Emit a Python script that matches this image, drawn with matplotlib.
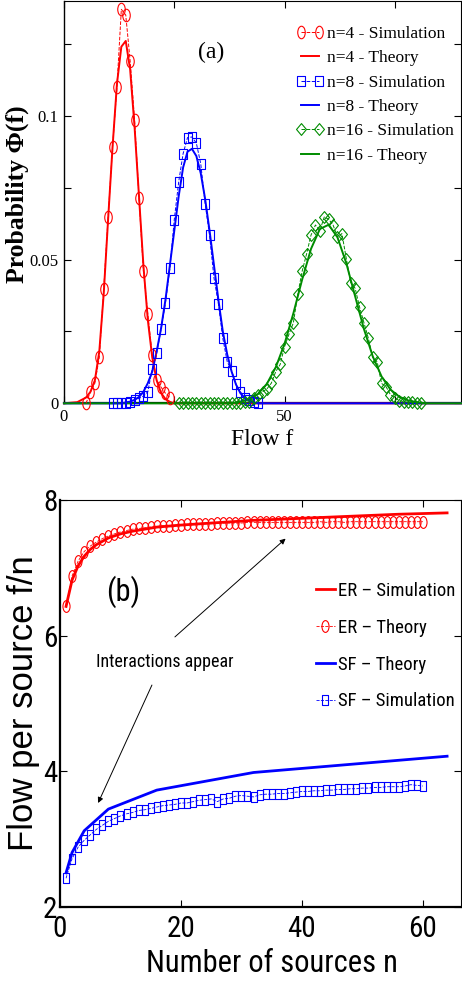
import numpy as np
import matplotlib
matplotlib.use("Agg")
import matplotlib.pyplot as plt
from matplotlib.path import Path
from matplotlib.transforms import Affine2D
from matplotlib.lines import Line2D

#------------------------------------------------------------
# Data, panel (a) : distribution of the flow
#------------------------------------------------------------
f4_sim = list(range(5, 25))
p4_sim = [0, 0.004, 0.007, 0.016, 0.0396, 0.0648, 0.089, 0.110, 0.137, 0.135,
          0.119, 0.0986, 0.0715, 0.046, 0.031, 0.0168, 0.0081, 0.0056, 0.0035, 0.002]
f4_th = [0, 3, 4, 5, 6, 7, 8, 9, 10, 11, 12, 13, 14, 15, 16, 17, 18, 19, 20, 21, 22, 23, 24, 25, 90]
p4_th = [0, 0.0004, 0.0012, 0.002, 0.004, 0.008, 0.018, 0.038, 0.064, 0.089, 0.111, 0.124,
         0.126, 0.116, 0.096, 0.072, 0.048, 0.029, 0.016, 0.008, 0.0036, 0.0015, 0.0005, 0, 0]

f8_sim = list(range(11, 45))
p8_sim = [0, 0, 0, 0.0002, 0.0006, 0.0011, 0.0017, 0.0025, 0.004, 0.012, 0.0174, 0.0257,
          0.0349, 0.0469, 0.0639, 0.077, 0.0868, 0.0924, 0.0926, 0.0905, 0.0833, 0.0694,
          0.0584, 0.0436, 0.0347, 0.0226, 0.0145, 0.0113, 0.0066, 0.004, 0.0017, 0.0011,
          0.0005, 0.0002]
f8_th = [0, 13, 14, 15, 16, 17, 18, 19, 20, 21, 22, 23, 24, 25, 26, 27, 28, 29, 30, 31, 32,
         33, 34, 35, 36, 37, 38, 39, 40, 41, 42, 43, 44, 90]
p8_th = [0, 0, 0.0003, 0.0006, 0.0012, 0.0022, 0.004, 0.007, 0.011, 0.018, 0.026, 0.036,
         0.048, 0.060, 0.072, 0.082, 0.0875, 0.0885, 0.086, 0.080, 0.071, 0.060, 0.048,
         0.036, 0.025, 0.017, 0.011, 0.0065, 0.0035, 0.0018, 0.0008, 0.0003, 0, 0]

f16_sim = list(range(26, 82))
p16_sim = [0, 0, 0, 0, 0, 0, 0, 0, 0, 0, 0, 0, 0, 0, 0,
           0.0003, 0.0005, 0.002, 0.003, 0.004, 0.005, 0.007, 0.011, 0.0135, 0.0197,
           0.024, 0.028, 0.038, 0.046, 0.052, 0.0585, 0.062, 0.060, 0.0648, 0.064,
           0.062, 0.0578, 0.059, 0.0503, 0.042, 0.040, 0.0335, 0.028, 0.0226, 0.016,
           0.0144, 0.0069, 0.0058, 0.003, 0.002, 0.0009, 0.0006, 0.0004, 0.0003, 0.0002, 0.0001]
f16_th = [0, 38, 40, 42, 44, 46, 48, 50, 52, 54, 56, 58, 60, 62, 64, 66, 68, 70, 72, 74,
          76, 78, 80, 82, 90]
p16_th = [0, 0, 0.0006, 0.0015, 0.0033, 0.0068, 0.0125, 0.0207, 0.0313, 0.0431, 0.0537,
          0.0606, 0.0621, 0.0577, 0.0487, 0.0372, 0.0258, 0.0163, 0.0093, 0.0048, 0.0023,
          0.001, 0.0004, 0, 0]

#------------------------------------------------------------
# Data, panel (b) : flow per source
#------------------------------------------------------------
n_sim = list(range(1, 61))
er_theory = [6.43, 6.88, 7.10, 7.24, 7.32, 7.38, 7.43, 7.47, 7.50, 7.53,
             7.55, 7.57, 7.58, 7.59, 7.60, 7.61, 7.62, 7.62, 7.63, 7.63,
             7.64, 7.64, 7.65, 7.65, 7.65, 7.66, 7.66, 7.66, 7.66, 7.66,
             7.67, 7.67, 7.67, 7.67, 7.67, 7.67, 7.67, 7.67, 7.67, 7.67,
             7.67, 7.67, 7.68, 7.67, 7.68, 7.68, 7.67, 7.68, 7.68, 7.68,
             7.68, 7.68, 7.68, 7.68, 7.68, 7.68, 7.68, 7.68, 7.68, 7.68]
n_er = [1, 2, 3, 4, 5, 6, 8, 10, 12, 16, 20, 25, 32, 40, 48, 56, 64]
er_sim = [6.43, 6.82, 7.03, 7.17, 7.27, 7.34, 7.44, 7.50, 7.54, 7.60, 7.63, 7.66,
          7.70, 7.73, 7.76, 7.79, 7.81]
n_sf = [1, 2, 4, 8, 16, 32, 64]
sf_theory = [2.5, 2.8, 3.12, 3.44, 3.72, 3.98, 4.22]
sf_sim = [2.42, 2.71, 2.88, 2.98, 3.06, 3.14, 3.20, 3.26, 3.30, 3.34,
          3.37, 3.39, 3.42, 3.43, 3.45, 3.47, 3.49, 3.50, 3.51, 3.53,
          3.53, 3.55, 3.57, 3.58, 3.59, 3.55, 3.59, 3.60, 3.63, 3.64,
          3.63, 3.62, 3.65, 3.66, 3.66, 3.67, 3.67, 3.68, 3.69, 3.70,
          3.70, 3.71, 3.71, 3.72, 3.72, 3.73, 3.73, 3.74, 3.74, 3.75,
          3.75, 3.76, 3.76, 3.77, 3.77, 3.77, 3.78, 3.80, 3.79, 3.78]

#------------------------------------------------------------
# Markers (squeezed like in the original picture)
#------------------------------------------------------------
circ_a = Path.unit_circle().transformed(Affine2D().scale(0.6, 1))
sq_a = Path([[-0.43, -0.5], [0.43, -0.5], [0.43, 0.5], [-0.43, 0.5], [-0.43, -0.5]], closed=True)
dia_a = Path([[0, -0.5], [0.42, 0], [0, 0.5], [-0.42, 0], [0, -0.5]], closed=True)
sq_b = Path([[-0.37, -0.5], [0.37, -0.5], [0.37, 0.5], [-0.37, 0.5], [-0.37, -0.5]], closed=True)

red = "#ff0000"
blue = "#0000ff"
green = "#008c00"
serif = "Liberation Serif"
narrow = ["Roboto Condensed", "Liberation Sans", "DejaVu Sans"]

fig = plt.figure(figsize=(4.62, 9.85), dpi=100)
W, H = 462.0, 985.0

#------------------------------------------------------------
# Panel (a)
#------------------------------------------------------------
ax1 = fig.add_axes([64 / W, 1 - 403.3 / H, (461 - 64) / W, (403.3 - 0.7) / H])

sim_kw = dict(ls="--", lw=0.7, mfc="none", mew=0.8, clip_on=False, zorder=4)
ax1.plot(f4_sim, p4_sim, color=red, marker=circ_a, ms=9, **sim_kw)
ax1.plot(f8_sim, p8_sim, color=blue, marker=sq_a, ms=6.8, **sim_kw)
ax1.plot(f16_sim, p16_sim, color=green, marker=dia_a, ms=8.5, **sim_kw)
ax1.plot(f4_th, p4_th, color=red, lw=1.4, clip_on=False, zorder=3)
ax1.plot(f8_th, p8_th, color=blue, lw=1.4, clip_on=False, zorder=3)
ax1.plot(f16_th, p16_th, color=green, lw=1.4, clip_on=False, zorder=3)

ax1.set_xlim(0, 90)
ax1.set_ylim(0, 0.14)
ax1.set_xticks([0, 50])
ax1.set_xticks([25, 75], minor=True)
ax1.set_yticks([0, 0.05, 0.1])
ax1.set_yticklabels(["0", "0.05", "0.1"])
ax1.set_yticks([0.025, 0.075, 0.125], minor=True)
ax1.tick_params(which="both", direction="in", top=True, right=True, length=5, width=0.8)
ax1.tick_params(axis="x", pad=4)
ax1.tick_params(axis="y", pad=4)
for lab in ax1.get_xticklabels() + ax1.get_yticklabels():
    lab.set_family(serif)
    lab.set_fontsize(12)
ax1.spines["bottom"].set_linewidth(1.6)
ax1.spines["left"].set_linewidth(1.0)
ax1.spines["top"].set_linewidth(0.8)
ax1.spines["right"].set_linewidth(0.8)

ax1.set_xlabel("Flow f", family=serif, fontsize=17)
ax1.xaxis.set_label_coords((262 - 64) / 397, -0.065)
ax1.set_ylabel("Probability \u03a6(f)", family=serif, fontsize=18.5, fontweight="bold")
ax1.yaxis.set_label_coords((29 - 64) / 397, 0.52)
ax1.text(33.3, 0.122, "(a)", family=serif, fontsize=17, ha="center", va="center")

h_a = [Line2D([], [], color=red, ls="--", lw=0.7, marker=circ_a, ms=9, mfc="none", mew=0.8),
       Line2D([], [], color=red, lw=1.4),
       Line2D([], [], color=blue, ls="--", lw=0.7, marker=sq_a, ms=6.8, mfc="none", mew=0.8),
       Line2D([], [], color=blue, lw=1.4),
       Line2D([], [], color=green, ls="--", lw=0.7, marker=dia_a, ms=8.5, mfc="none", mew=0.8),
       Line2D([], [], color=green, lw=1.4)]
l_a = ["n=4 - Simulation", "n=4 - Theory", "n=8 - Simulation", "n=8 - Theory",
       "n=16 - Simulation", "n=16 - Theory"]
fig.legend(h_a, l_a, loc="upper left", bbox_to_anchor=(296 / W, 1 - 26 / H),
           frameon=False, numpoints=2, handlelength=1.6, handletextpad=0.2,
           labelspacing=0.47, borderpad=0, borderaxespad=0,
           prop={"family": serif, "size": 12.5})

#------------------------------------------------------------
# Panel (b)
#------------------------------------------------------------
ax2 = fig.add_axes([60 / W, 1 - 906.7 / H, (461 - 60) / W, (906.7 - 500) / H])

ax2.plot(n_er, er_sim, color=red, lw=2.0, zorder=3, label="ER \u2013 Simulation")
ax2.plot(n_sim, er_theory, color=red, ls="--", lw=0.6, marker=circ_a, ms=8.5,
         mfc="none", mew=0.8, zorder=4, label="ER \u2013 Theory")
ax2.plot(n_sf, sf_theory, color=blue, lw=2.0, zorder=3, label="SF \u2013 Theory")
ax2.plot(n_sim, sf_sim, color=blue, ls="--", lw=0.6, marker=sq_b, ms=6.8,
         mfc="none", mew=0.8, zorder=4, label="SF \u2013 Simulation")

ax2.set_xlim(0, 66.3)
ax2.set_ylim(2, 8)
ax2.set_xticks([0, 20, 40, 60])
ax2.set_yticks([2, 4, 6, 8])
ax2.tick_params(direction="in", top=True, right=True, length=5, width=0.8)
ax2.tick_params(axis="x", pad=6)
ax2.tick_params(axis="y", pad=2)
for lab in ax2.get_xticklabels() + ax2.get_yticklabels():
    lab.set_family(narrow)
    lab.set_fontsize(21)
ax2.spines["bottom"].set_linewidth(1.6)
ax2.spines["left"].set_linewidth(1.6)
ax2.spines["top"].set_linewidth(0.8)
ax2.spines["right"].set_linewidth(0.8)

ax2.set_xlabel("Number of sources n", family=narrow, fontsize=22)
ax2.xaxis.set_label_coords((272 - 60) / 401, -0.104)
ax2.set_ylabel("Flow per source f/n", family="Liberation Sans", fontsize=25)
ax2.yaxis.set_label_coords((40 - 60) / 401, 0.50)

ax2.text(10.4, 6.64, "(b)", family=narrow, fontsize=22, ha="center", va="center")
ax2.text(17.4, 5.61, "Interactions appear", family=narrow, fontsize=13,
         ha="center", va="center")
arr = dict(arrowstyle="-|>", color="black", lw=0.7, mutation_scale=8, shrinkA=0, shrinkB=0)
ax2.annotate("", xy=(37.3, 7.43), xytext=(19.0, 5.98), arrowprops=arr)
ax2.annotate("", xy=(6.3, 3.53), xytext=(15.2, 5.27), arrowprops=arr)

ax2.legend(loc="upper left", bbox_to_anchor=(316 / W, 1 - 582 / H),
           bbox_transform=fig.transFigure, frameon=False, numpoints=1,
           handlelength=1.0, handletextpad=0.15, labelspacing=1.0,
           borderpad=0, borderaxespad=0, prop={"family": narrow, "size": 13.5})

fig.savefig("out.png", dpi=100)
